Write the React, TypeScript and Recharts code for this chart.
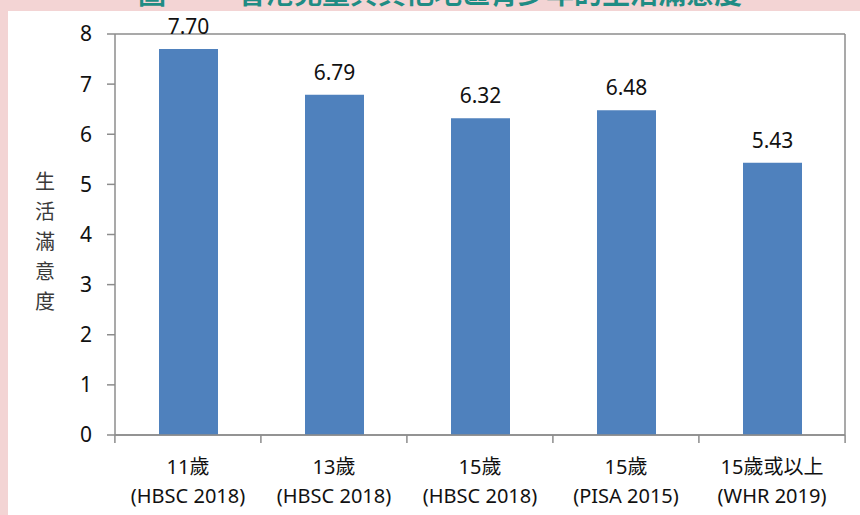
import { BarChart, Bar, XAxis, YAxis, CartesianGrid, LabelList } from 'recharts';

const AGES = ['11歲', '13歲', '15歲', '15歲', '15歲或以上'];
const SOURCES = ['(HBSC 2018)', '(HBSC 2018)', '(HBSC 2018)', '(PISA 2015)', '(WHR 2019)'];
const SCORES = [7.7, 6.79, 6.32, 6.48, 5.43];
const Y_TICKS = [0, 1, 2, 3, 4, 5, 6, 7, 8];
const Y_LABEL = ['生', '活', '滿', '意', '度'];

const data = AGES.map((age, i) => ({
  name: `${age} ${SOURCES[i]}`,
  age,
  source: SOURCES[i],
  value: SCORES[i],
}));

const W = 860;
const H = 515;
const MARGIN = { top: 34, right: 14, left: 0, bottom: 0 };
const Y_WIDTH = 115;
const BAND = (W - Y_WIDTH - MARGIN.right - MARGIN.left) / AGES.length;
const GRID = '#8c8c8c';
const FONT = '"Noto Sans", "Noto Sans CJK TC", sans-serif';

const XTick = (props: any) => {
  const { x, y, payload, index } = props;
  const row = data[index] || data.find((d) => d.name === payload.value);
  const axisY = y - 8;
  const half = BAND / 2;
  return (
    <g>
      <line x1={x - half} x2={x - half} y1={axisY} y2={axisY + 8} stroke={GRID} strokeWidth={1.5} />
      {index === data.length - 1 && (
        <line x1={x + half} x2={x + half} y1={axisY} y2={axisY + 8} stroke={GRID} strokeWidth={1.5} />
      )}
      <text x={x} y={axisY + 39} textAnchor="middle" fontSize={20} fill="#111" fontFamily={FONT}>
        {row?.age}
      </text>
      <text x={x} y={axisY + 68} textAnchor="middle" fontSize={20} fill="#111" fontFamily={FONT}>
        {row?.source}
      </text>
    </g>
  );
};

export default function App() {
  return (
    <div
      style={{
        position: 'absolute',
        left: 0,
        top: 0,
        width: W,
        height: H,
        overflow: 'hidden',
        background: '#f3d4d4',
      }}
    >
      {/* title, mostly cut off at the top as in the source image */}
      <div
        style={{
          position: 'absolute',
          left: 138,
          top: -25,
          fontSize: 28,
          fontWeight: 700,
          color: '#1f8c84',
          fontFamily: '"Noto Sans CJK TC", sans-serif',
          whiteSpace: 'nowrap',
          lineHeight: '34px',
        }}
      >
        圖一
        <span style={{ marginLeft: 44 }}>香港兒童與其他地區青少年的生活滿意度</span>
      </div>
      <div style={{ position: 'absolute', left: 8, top: 11, width: W - 8, height: H - 11, background: '#fff' }} />
      <div
        style={{
          position: 'absolute',
          left: 32,
          top: 166,
          width: 26,
          fontSize: 20,
          lineHeight: '30px',
          color: '#3a3a3a',
          textAlign: 'center',
          fontFamily: '"Noto Sans CJK TC", sans-serif',
        }}
      >
        {Y_LABEL.map((c) => (
          <div key={c}>{c}</div>
        ))}
      </div>
      <div style={{ position: 'absolute', left: 0, top: 0 }}>
        <BarChart width={W} height={H} data={data} margin={MARGIN}>
          <CartesianGrid vertical={false} stroke={GRID} strokeWidth={1.5} />
          <XAxis
            dataKey="name"
            height={80}
            interval={0}
            tickLine={false}
            axisLine={{ stroke: GRID, strokeWidth: 1.5 }}
            tick={<XTick />}
            tickSize={0}
            tickMargin={8}
          />
          <YAxis
            yAxisId="left"
            width={Y_WIDTH}
            domain={[0, 8]}
            ticks={Y_TICKS}
            interval={0}
            tickSize={8}
            tickMargin={15}
            axisLine={{ stroke: GRID, strokeWidth: 1.5 }}
            tickLine={{ stroke: GRID, strokeWidth: 1.5 }}
            tick={{ fontSize: 21, fill: '#111', fontFamily: FONT }}
          />
          <YAxis
            yAxisId="right"
            orientation="right"
            width={1}
            domain={[0, 8]}
            tick={false}
            tickLine={false}
            axisLine={{ stroke: GRID, strokeWidth: 1.5 }}
          />
          <Bar yAxisId="left" dataKey="value" fill="#4f81bd" barSize={59} isAnimationActive={false}>
            <LabelList
              dataKey="value"
              position="top"
              offset={15}
              formatter={(v: any) => Number(v).toFixed(2)}
              style={{ fontSize: 21, fill: '#111', fontFamily: FONT }}
            />
          </Bar>
        </BarChart>
      </div>
    </div>
  );
}
